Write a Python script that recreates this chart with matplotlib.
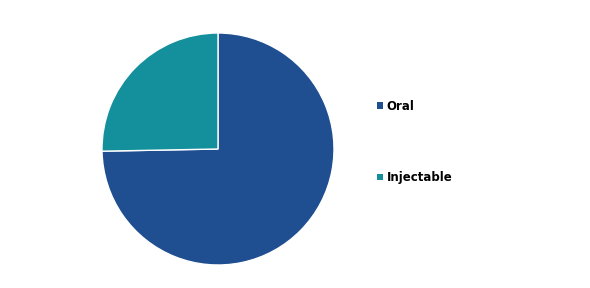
import matplotlib.pyplot as plt
from matplotlib.patches import Patch

labels = ['Oral', 'Injectable']
shares = [74.7, 25.3]
colors = ['#1f4e91', '#14909c']

fig = plt.figure(figsize=(5.9, 2.88), dpi=100)
ax = fig.add_axes([102 / 590, (288 - 149 - 116) / 288, 232 / 590, 232 / 288])

wedges, _ = ax.pie(
    shares,
    colors=colors,
    startangle=90,
    counterclock=False,
    wedgeprops=dict(edgecolor='white', linewidth=1),
)
ax.set_xlim(-1, 1)
ax.set_ylim(-1, 1)
ax.set_aspect('equal')

handles = [Patch(facecolor=c, edgecolor='none') for c in colors]
fig.legend(
    handles,
    labels,
    loc='center left',
    bbox_to_anchor=(366 / 590, 1 - 142 / 288),
    frameon=False,
    prop=dict(weight='bold', size=8.5),
    handlelength=0.5,
    handleheight=0.5,
    handletextpad=0.35,
    labelspacing=4.95,
)

fig.savefig('out.png', dpi=100)
